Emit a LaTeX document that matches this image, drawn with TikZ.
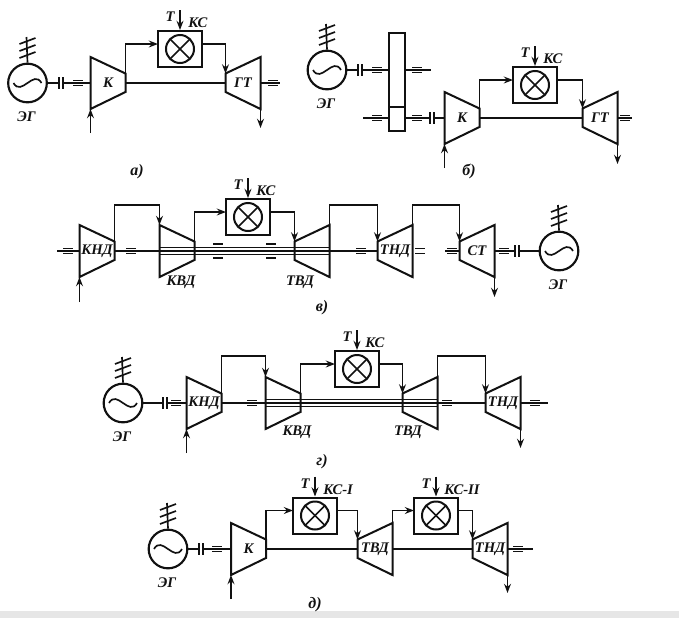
\documentclass[tikz,border=0pt]{standalone}
\usepackage{fontspec}
\setmainfont{Liberation Serif}
\usepackage{tikz}
\usetikzlibrary{arrows.meta,calc}
\definecolor{ink}{HTML}{111111}
\definecolor{band}{HTML}{E6E6E6}
% compressor, wide end on the left
\newcommand{\compr}[4]{%
  \coordinate (#1-lt) at ({#2-17.5},{#3-26});
  \coordinate (#1-lb) at ({#2-17.5},{#3+26});
  \coordinate (#1-rt) at ({#2+17.5},{#3-9.5});
  \coordinate (#1-rb) at ({#2+17.5},{#3+9});
  \coordinate (#1-lm) at ({#2-17.5},#3);
  \coordinate (#1-rm) at ({#2+17.5},#3);
  \draw[unit] (#1-lt) -- (#1-rt) -- (#1-rb) -- (#1-lb) -- cycle;
  \node[lbl] (#1) at (#2,#3) {#4};}
% turbine, wide end on the right
\newcommand{\turb}[4]{%
  \coordinate (#1-lt) at ({#2-17.5},{#3-9.5});
  \coordinate (#1-lb) at ({#2-17.5},{#3+9});
  \coordinate (#1-rt) at ({#2+17.5},{#3-26});
  \coordinate (#1-rb) at ({#2+17.5},{#3+26});
  \coordinate (#1-lm) at ({#2-17.5},#3);
  \coordinate (#1-rm) at ({#2+17.5},#3);
  \draw[unit] (#1-lt) -- (#1-rt) -- (#1-rb) -- (#1-lb) -- cycle;
  \node[lbl] (#1) at (#2,#3) {#4};}
% combustor box with fuel arrow
\newcommand{\burner}[4]{%
  \node[kcbox] (#1) at (#2,#3) {};
  \node[kcring] (#1-o) at (#2,#3) {};
  \draw[shaft] ($(#1-o)+(45:14)$) -- ($(#1-o)+(225:14)$);
  \draw[shaft] ($(#1-o)+(135:14)$) -- ($(#1-o)+(315:14)$);
  \coordinate (#1-in) at ({#2-22},{#3-5});
  \coordinate (#1-out) at ({#2+22},{#3-5});
  \coordinate (#1-f) at (#2,{#3-39});
  \draw[pipe] (#1-f) -- (#1.north);
  \node[lbl] (#1-t) at ({#2-10},{#3-32}) {Т};
  \node[lbl,anchor=west] (#1-l) at ({#2+8},{#3-26}) {#4};}
% generator: name, x, y, wave sign
\newcommand{\eg}[4]{%
  \node[gencirc] (#1) at (#2,#3) {};
  \draw[shaft] ({#2-14},#3) .. controls ({#2-6},{#3+#4*14}) and ({#2+6},{#3-#4*14}) .. ({#2+14},#3);
  \coordinate (#1-top) at ({#2-1},{#3-46});
  \draw[shaft] (#1.north) -- (#1-top);
  \draw[shaft] ({#2-8},{#3-25}) -- ({#2+8},{#3-31}) ({#2-8},{#3-32}) -- ({#2+8},{#3-38}) ({#2-8},{#3-39}) -- ({#2+8},{#3-45});
  \node[lbl] (#1-l) at ({#2-1},{#3+34}) {ЭГ};}
% clutch
\newcommand{\clutch}[3]{%
  \coordinate (#1-l) at ({#2},#3);
  \coordinate (#1-r) at ({#2+4},#3);
  \draw[shaft] ({#2},{#3-6}) -- ({#2},{#3+6}) ({#2+4},{#3-6}) -- ({#2+4},{#3+6});}
% bearing on a shaft
\newcommand{\brg}[2]{\draw[shaft] ({#1-5},{#2-2.5}) -- ({#1+5},{#2-2.5}) ({#1-5},{#2+2.5}) -- ({#1+5},{#2+2.5});}
% bearing on the hollow shaft
\newcommand{\brgw}[2]{\draw[shaft] ({#1-5},{#2-7}) -- ({#1+5},{#2-7}) ({#1-5},{#2+7}) -- ({#1+5},{#2+7});}
\begin{document}
\begin{tikzpicture}[x=0.75pt,y=-0.75pt,
  unit/.style={draw=ink,line width=1.5pt,line join=miter},
  shaft/.style={draw=ink,line width=1.25pt},
  pipe/.style={draw=ink,line width=1.25pt,-{Stealth[length=2.4mm,width=1.8mm]}},
  lbl/.style={font=\bfseries\itshape\fontsize{11}{13}\selectfont,text=ink,inner sep=0pt},
  kcbox/.style={draw=ink,line width=1.5pt,fill=white,minimum width=33pt,minimum height=27pt,inner sep=0pt},
  kcring/.style={circle,draw=ink,line width=1.5pt,minimum size=21pt,inner sep=0pt},
  gencirc/.style={circle,draw=ink,line width=1.6pt,minimum size=29pt,inner sep=0pt},
  capt/.style={font=\bfseries\itshape\fontsize{12}{14}\selectfont,text=ink,inner sep=0pt}]
\useasboundingbox (0,0) rectangle (679,618);
\fill[band] (0,611) rectangle (679,618);
% a
\eg{aeg}{27.5}{83}{1}
\clutch{ac}{59}{83}
\compr{ak}{108}{83}{К}
\turb{agt}{243}{83}{ГТ}
\burner{aks}{180}{49}{КС}
\draw[shaft] (aeg.east) -- (ac-l);
\draw[shaft] (ac-r) -- (ak-lm);
\brg{78}{83}
\draw[shaft] (ak-rm) -- (agt-lm);
\draw[pipe] (ak-rt) |- (aks-in);
\draw[pipe] (aks-out) -| (agt-lt);
\coordinate (ain) at (90.5,133);
\draw[pipe] (ain) -- (ak-lb);
\coordinate (aout) at (260.5,128);
\draw[pipe] (agt-rb) -- (aout);
\coordinate (ae) at (280,83);
\draw[shaft] (agt-rm) -- (ae);
\brg{273}{83}
\node[capt] (acap) at (137,172) {а)};
% b
\eg{beg}{327}{70}{1}
\clutch{bc}{358}{70}
\node[draw=ink,line width=1.5pt,minimum width=12pt,minimum height=73.5pt,inner sep=0pt] (bgear) at (397,82) {};
\coordinate (bgl) at (389,118);
\coordinate (bgr) at (405,118);
\coordinate (bul) at (405,70);
\draw[unit] (389,107) -- (405,107);
\draw[shaft] (beg.east) -- (bc-l);
\draw[shaft] (bc-r) -- (389,70);
\brg{377}{70}
\coordinate (bs1) at (431,70);
\draw[shaft] (bul) -- (bs1);
\brg{417}{70}
\coordinate (bs2) at (363,118);
\draw[shaft] (bs2) -- (bgl);
\brg{377}{118}
\clutch{bd}{430}{118}
\compr{bk}{462}{118}{К}
\turb{bgt}{600}{118}{ГТ}
\burner{bks}{535}{85}{КС}
\draw[shaft] (bgr) -- (bd-l);
\brg{417}{118}
\draw[shaft] (bd-r) -- (bk-lm);
\draw[shaft] (bk-rm) -- (bgt-lm);
\draw[pipe] (bk-rt) |- (bks-in);
\draw[pipe] (bks-out) -| (bgt-lt);
\coordinate (bin) at (444.5,168);
\draw[pipe] (bin) -- (bk-lb);
\coordinate (bout) at (617.5,164);
\draw[pipe] (bgt-rb) -- (bout);
\coordinate (be) at (632,118);
\draw[shaft] (bgt-rm) -- (be);
\brg{625}{118}
\node[capt] (bcap) at (469,171) {б)};
% v
\compr{vkn}{97}{251}{КНД}
\compr{vkv}{177}{251}{}
\burner{vks}{248}{217}{КС}
\turb{vtv}{312}{251}{}
\turb{vtn}{395}{251}{ТНД}
\turb{vst}{477}{251}{СТ}
\eg{veg}{559}{251}{1}
\clutch{vc}{515}{251}
\coordinate (vs0) at (57,251);
\draw[shaft] (vs0) -- (vkn-lm);
\brg{68}{251}
\draw[shaft] (vkn-rm) -- (vkv-lm);
\brg{131}{251}
\draw[shaft] (vkv-lm) -- (vtv-rm);
\draw[shaft] ($(vkv-lm)+(0,-3.5)$) -- ($(vtv-rm)+(0,-3.5)$);
\draw[shaft] ($(vkv-lm)+(0,3.5)$) -- ($(vtv-rm)+(0,3.5)$);
\brgw{218}{251}
\brgw{271}{251}
\draw[shaft] (vtv-rm) -- (vtn-lm);
\brg{361}{251}
\brg{420}{251}
\coordinate (vs1) at (445,251);
\draw[shaft] (vs1) -- (vst-lm);
\brg{452}{251}
\draw[shaft] (vst-rm) -- (vc-l);
\brg{504}{251}
\draw[shaft] (vc-r) -- (veg.west);
\coordinate (vr1) at (114.5,205);
\coordinate (vr2) at (329.5,205);
\coordinate (vr3) at (412.5,205);
\draw[pipe] (vkn-rt) -- (vr1) -| (vkv-lt);
\draw[pipe] (vkv-rt) |- (vks-in);
\draw[pipe] (vks-out) -| (vtv-lt);
\draw[pipe] (vtv-rt) -- (vr2) -| (vtn-lt);
\draw[pipe] (vtn-rt) -- (vr3) -| (vst-lt);
\coordinate (vin) at (79.5,302);
\draw[pipe] (vin) -- (vkn-lb);
\coordinate (vout) at (494.5,297);
\draw[pipe] (vst-rb) -- (vout);
\node[lbl] (vlk) at (181,282) {КВД};
\node[lbl] (vlt) at (300,282) {ТВД};
\node[capt] (vcap) at (322,308) {в)};
% g
\eg{geg}{123}{403}{-1}
\clutch{gc}{163}{403}
\compr{gkn}{204}{403}{КНД}
\compr{gkv}{283}{403}{}
\burner{gks}{357}{369}{КС}
\turb{gtv}{420}{403}{}
\turb{gtn}{503}{403}{ТНД}
\draw[shaft] (geg.east) -- (gc-l);
\draw[shaft] (gc-r) -- (gkn-lm);
\brg{176}{403}
\draw[shaft] (gkn-rm) -- (gkv-lm);
\brg{252}{403}
\draw[shaft] (gkv-lm) -- (gtv-rm);
\draw[shaft] ($(gkv-lm)+(0,-3.5)$) -- ($(gtv-rm)+(0,-3.5)$);
\draw[shaft] ($(gkv-lm)+(0,3.5)$) -- ($(gtv-rm)+(0,3.5)$);
\draw[shaft] (gtv-rm) -- (gtn-lm);
\brg{447}{403}
\coordinate (ge) at (548,403);
\draw[shaft] (gtn-rm) -- (ge);
\brg{535}{403}
\coordinate (gr1) at (221.5,356);
\coordinate (gr2) at (437.5,356);
\draw[pipe] (gkn-rt) -- (gr1) -| (gkv-lt);
\draw[pipe] (gkv-rt) |- (gks-in);
\draw[pipe] (gks-out) -| (gtv-lt);
\draw[pipe] (gtv-rt) -- (gr2) -| (gtn-lt);
\coordinate (gin) at (186.5,453);
\draw[pipe] (gin) -- (gkn-lb);
\coordinate (gout) at (520.5,448);
\draw[pipe] (gtn-rb) -- (gout);
\node[lbl] (glk) at (297,432) {КВД};
\node[lbl] (glt) at (408,432) {ТВД};
\node[capt] (gcap) at (322,462) {г)};
% d
\eg{deg}{168}{549}{-1}
\clutch{dc}{199}{549}
\compr{dk}{248.5}{549}{К}
\burner{dk1}{315}{515.5}{КС-I}
\turb{dtv}{375}{549}{ТВД}
\burner{dk2}{436}{515.5}{КС-II}
\turb{dtn}{490}{549}{ТНД}
\draw[shaft] (deg.east) -- (dc-l);
\draw[shaft] (dc-r) -- (dk-lm);
\brg{217}{549}
\draw[shaft] (dk-rm) -- (dtv-lm);
\draw[shaft] (dtv-rm) -- (dtn-lm);
\coordinate (de) at (533,549);
\draw[shaft] (dtn-rm) -- (de);
\brg{518}{549}
\draw[pipe] (dk-rt) |- (dk1-in);
\draw[pipe] (dk1-out) -| (dtv-lt);
\draw[pipe] (dtv-rt) |- (dk2-in);
\draw[pipe] (dk2-out) -| (dtn-lt);
\coordinate (din) at (231,599);
\draw[pipe] (din) -- (dk-lb);
\coordinate (dout) at (507.5,593);
\draw[pipe] (dtn-rb) -- (dout);
\node[capt] (dcap) at (315,605) {д)};
\end{tikzpicture}
\end{document}
